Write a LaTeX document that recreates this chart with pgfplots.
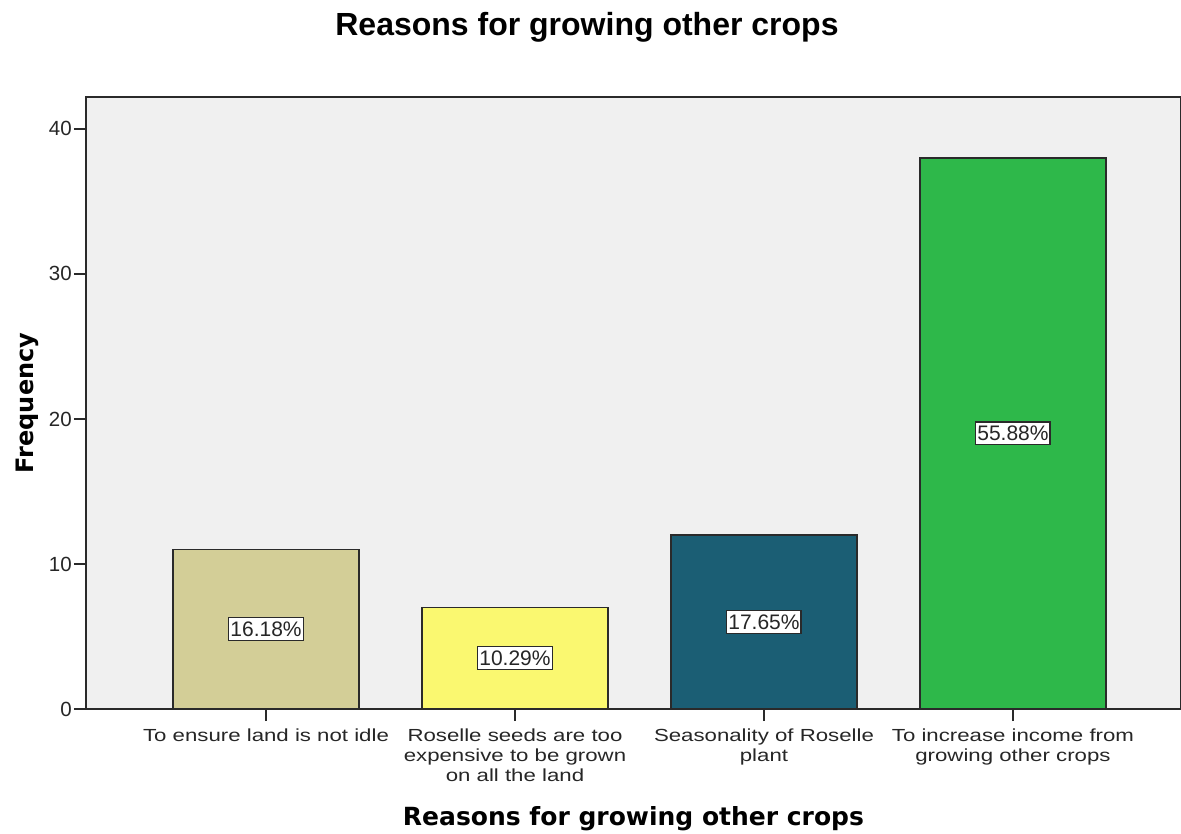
\documentclass[border=0pt]{standalone}
\usepackage{fontspec}
\setmainfont{Liberation Sans}
\newfontfamily\dvsans{DejaVu Sans}
\newfontfamily\catfont{Liberation Sans}[FakeStretch=1.27]
\usepackage{pgfplots}
\pgfplotsset{compat=1.18}
\definecolor{bgc}{HTML}{F0F0F0}
\definecolor{cA}{HTML}{D3CE97}
\definecolor{cB}{HTML}{FAF870}
\definecolor{cC}{HTML}{1B5E74}
\definecolor{cD}{HTML}{2EB84A}
\definecolor{edge}{HTML}{2A2A2A}
\begin{document}
\begin{tikzpicture}
\begin{axis}[
  scale only axis, width=1095pt, height=612pt,
  at={(0,0)}, anchor=south west,
  xmin=-0.723, xmax=3.675, ymin=0, ymax=42.2,
  axis background/.style={fill=bgc},
  axis line style={draw=edge, line width=1.8pt},
  xtick={0,1,2,3},
  xticklabels={To ensure land is not idle,
    {Roselle seeds are too\\expensive to be grown\\on all the land},
    {Seasonality of Roselle\\plant},
    {To increase income from\\growing other crops}},
  ytick={0,10,20,30,40},
  tick align=outside, major tick length=12pt,
  tick style={draw=edge, line width=1.6pt},
  xtick pos=bottom, ytick pos=left,
  /pgf/number format/assume math mode=true,
  yticklabel style={font=\fontsize{20.5}{24}\selectfont, inner sep=2pt, text=black!85},
  xticklabel style={font=\catfont\fontsize{17.5}{20}\selectfont, align=center, inner sep=2pt, yshift=-6pt, text=black!85},
  clip=false,
]
\addplot[ybar, bar width=186pt, bar shift=0pt, fill=cA, draw=edge, line width=1.4pt] coordinates {(0,11)};
\addplot[ybar, bar width=186pt, bar shift=0pt, fill=cB, draw=edge, line width=1.4pt] coordinates {(1,7)};
\addplot[ybar, bar width=186pt, bar shift=0pt, fill=cC, draw=edge, line width=1.4pt] coordinates {(2,12)};
\addplot[ybar, bar width=186pt, bar shift=0pt, fill=cD, draw=edge, line width=1.4pt] coordinates {(3,38)};
\addplot[draw=none, nodes near coords, point meta=explicit symbolic,
  nodes near coords style={anchor=center, fill=white, draw=edge, line width=1.2pt, inner xsep=1.5pt, inner ysep=4pt, text=black!85, font=\fontsize{21}{24}\selectfont}]
  coordinates {(0,5.5) [16.18\%] (1,3.5) [10.29\%] (2,6) [17.65\%] (3,19) [55.88\%]};
\node[font=\bfseries\fontsize{32}{36}\selectfont, anchor=base] at (axis description cs:0.4575,1.0997) {Reasons for growing other crops};
\node[font=\dvsans\bfseries\fontsize{25}{28}\selectfont, anchor=base] at (axis description cs:0.5,-0.191) {Reasons for growing other crops};
\node[font=\dvsans\bfseries\fontsize{24}{28}\selectfont, rotate=90, anchor=center] at (axis description cs:-0.054,0.5) {Frequency};
\end{axis}
\pgfresetboundingbox
\useasboundingbox (-86pt,-124pt) rectangle (1095pt,709pt);
\end{tikzpicture}
\end{document}
